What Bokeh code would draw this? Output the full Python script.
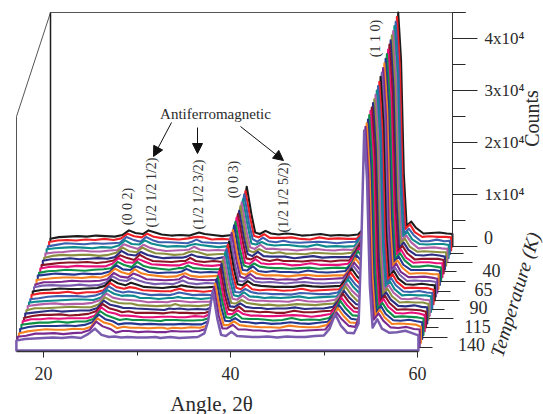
from bokeh.plotting import figure
from bokeh.models import LinearAxis, FixedTicker, Arrow, NormalHead
from bokeh.core.properties import value
from bokeh.embed import file_html
from bokeh.resources import INLINE

angles = [17.1,18,19,20,21,22,23,24, 24.8,25.5,26.2,27,27.6,28.3,29,30, 31,32,32.5,33,33.6,34.5,35.5,36.5,
          37.2,37.6,38.1,38.6,39,39.5,40.1,40.7, 41.5,42.3,43,44,45,46,47,48, 49,50,50.6,51.2,51.8,52.5,53.2,53.7,
          54,54.3,54.6,54.9,55.2,55.7,56.2,57, 57.8,58.7,59.5,60.1]

# Counts in hundreds, one list per scan, back (0 K) to front (140 K)
s01 = [15,18,19,20,19,21,20,19, 22,31,26,24,31,27,23,21, 22,21,24,27,24,22,20,22, 28,55,115,62,27,24,30,25, 23,25,24,21,22,24,21,22, 21,23,34,50,40,28,27,55, 230,450,360,140,40,48,36,25, 26,27,25,24]
s02 = [16,19,20,19,21,20,22,20, 23,32,27,25,32,26,24,22, 21,23,25,26,25,21,22,21, 29,56,114,63,28,25,31,24, 24,24,25,22,21,25,22,23, 22,22,35,52,39,29,26,54, 228,449,358,138,41,50,35,26, 27,26,26,25]
s03 = [15,18,21,20,19,21,20,21, 22,33,28,24,33,27,23,23, 22,21,24,28,23,22,21,22, 28,54,115,61,29,24,32,25, 23,26,23,22,23,24,23,21, 23,24,34,53,41,28,28,56, 232,447,356,141,40,49,37,25, 25,28,25,26]
s04 = [17,19,20,21,20,19,21,20, 24,34,27,26,34,28,25,22, 23,22,25,27,25,23,21,23, 27,56,113,62,28,26,31,26, 24,25,25,23,22,26,22,23, 22,23,36,54,40,30,27,53, 226,446,355,139,42,50,36,27, 26,27,27,25]
s05 = [16,18,19,21,22,20,20,22, 23,34,29,25,33,27,24,21, 22,23,24,29,24,22,23,22, 28,55,114,60,28,25,33,25, 25,24,24,22,24,25,23,22, 24,23,35,55,42,29,28,55, 229,444,354,137,41,51,38,26, 27,28,26,25]
s06 = [15,19,21,20,21,21,19,21, 25,35,28,26,35,29,24,23, 21,22,26,28,26,21,22,23, 29,57,115,61,29,26,32,27, 24,26,23,23,22,25,24,23, 23,25,36,54,41,29,29,54, 227,443,352,136,43,52,37,27, 28,27,26,26]
s07 = [17,20,20,22,20,21,22,21, 24,36,29,27,34,28,25,22, 23,23,25,29,25,23,21,24, 28,56,113,62,30,26,34,26, 25,25,25,22,24,26,23,24, 24,24,37,56,41,31,28,56, 225,441,351,138,42,52,38,28, 27,29,27,25]
s08 = [16,18,20,21,21,22,20,22, 25,35,30,26,36,29,24,23, 22,24,24,30,24,22,24,22, 29,55,114,63,29,27,33,27, 24,27,24,24,23,25,25,23, 25,25,36,57,43,30,29,55, 224,440,350,135,43,53,39,27, 28,28,28,26]
s09 = [17,20,21,20,22,21,21,21, 26,37,29,28,35,30,25,24, 23,23,26,29,26,23,22,24, 30,57,115,62,28,26,35,27, 25,26,26,23,24,27,24,24, 24,26,38,56,42,31,29,54, 226,438,349,137,44,53,38,28, 29,29,27,27]
s10 = [16,19,20,22,21,20,22,23, 25,37,31,27,37,29,26,24, 22,25,25,30,25,24,23,23, 29,56,114,60,30,27,34,28, 26,25,25,24,25,26,24,25, 26,25,37,58,43,31,30,56, 223,437,348,136,43,54,40,28, 28,30,28,26]
s11 = [18,20,22,21,20,22,21,22, 26,38,30,29,36,31,25,23, 24,24,26,31,26,24,25,24, 30,55,115,61,29,28,36,27, 25,27,25,25,24,28,25,24, 25,27,39,57,44,32,30,55, 222,435,346,134,44,55,39,29, 29,29,29,27]
s12 = [17,19,21,22,22,21,23,22, 27,39,32,28,38,30,27,25, 23,24,27,30,25,23,24,25, 31,57,113,62,30,27,35,29, 26,26,26,24,26,27,25,25, 26,26,38,59,44,32,31,57, 221,434,346,136,45,55,41,29, 30,30,28,28]
s13 = [16,20,20,21,23,22,22,23, 26,38,31,29,37,32,26,25, 24,25,26,32,27,25,24,25, 30,56,115,63,31,28,36,28, 27,27,25,26,25,29,26,26, 27,28,40,58,45,33,31,56, 220,432,344,133,44,56,40,30, 30,31,29,27]
s14 = [18,21,22,21,21,23,21,22, 27,39,32,30,36,31,27,24, 25,24,27,31,26,24,26,25, 31,58,114,61,30,29,37,29, 27,28,27,25,27,28,26,25, 26,27,39,60,46,33,32,55, 222,431,343,135,46,56,42,30, 31,30,30,28]
s15 = [17,20,21,23,22,22,23,24, 28,40,33,29,34,30,26,25, 24,26,26,29,27,25,25,26, 30,57,113,62,31,29,37,30, 28,27,26,26,26,29,27,26, 27,28,41,61,46,34,32,57, 219,430,342,132,45,57,42,31, 30,32,30,29]
s16 = [18,21,22,22,24,21,23,23, 27,41,33,30,33,31,27,26, 25,25,28,30,26,26,24,26, 31,56,115,60,32,29,38,29, 27,28,28,26,27,30,26,27, 28,29,40,62,47,34,33,56, 218,428,341,134,46,58,43,31, 32,31,31,28]
s17 = [17,19,22,23,23,23,22,24, 29,42,34,30,32,30,28,25, 26,25,27,30,28,25,26,25, 32,58,114,62,31,30,37,31, 28,28,27,27,26,29,28,27, 27,30,41,61,47,35,33,58, 220,427,340,131,47,58,44,32, 31,33,30,29]
s18 = [18,20,21,22,23,24,24,23, 28,42,35,31,32,31,27,27, 25,27,27,29,27,27,25,27, 31,57,115,61,32,30,38,30, 29,27,28,27,28,30,27,28, 29,30,42,63,48,35,34,57, 217,426,339,133,47,59,44,32, 33,32,32,30]
s19 = [19,21,23,24,22,23,23,25, 30,43,35,32,31,30,29,26, 27,26,28,29,28,26,27,27, 32,56,113,63,33,31,39,31, 29,29,28,28,27,31,28,27, 28,31,43,62,48,36,34,59, 216,425,338,130,48,59,45,33, 32,34,31,30]
s20 = [18,22,22,23,24,25,24,24, 29,43,36,32,31,31,28,27, 26,27,27,30,27,27,26,28, 33,58,114,62,32,31,38,32, 30,28,29,27,28,30,29,28, 30,31,42,64,49,36,35,58, 218,424,337,132,48,60,45,33, 34,33,33,30]
s21 = [19,21,23,25,23,24,25,25, 30,44,36,33,30,30,29,28, 27,26,29,28,29,27,28,27, 33,57,115,60,33,32,39,32, 30,30,28,29,29,31,28,29, 29,32,44,63,49,37,35,57, 215,424,336,131,49,60,46,34, 33,35,32,31]
s22 = [18,22,24,24,25,23,24,26, 31,45,37,33,29,31,28,28, 28,27,28,29,28,28,27,28, 32,58,114,61,34,32,40,31, 31,29,30,28,28,32,29,29, 31,32,43,65,50,37,36,59, 214,423,335,133,49,61,47,34, 35,34,33,30]
s23 = [19,23,23,25,24,25,25,25, 30,46,37,34,30,30,29,27, 27,28,28,28,27,27,29,28, 34,57,115,62,33,33,40,33, 30,30,29,29,30,31,30,28, 30,33,45,64,50,38,36,58, 216,424,334,130,50,62,47,35, 34,36,34,31]
s24 = [20,22,24,24,26,24,26,26, 31,46,38,33,29,31,29,29, 28,27,29,29,29,28,28,29, 33,59,113,63,34,33,41,32, 31,31,30,28,29,33,29,30, 29,33,44,66,51,38,37,57, 213,423,333,132,50,62,48,35, 36,35,34,32]
s25 = [19,23,25,25,25,26,25,27, 32,47,38,34,28,30,30,28, 29,28,28,28,28,29,28,28, 34,58,115,61,35,34,40,33, 32,30,31,29,30,32,30,29, 31,33,46,65,51,39,37,59, 212,422,333,129,51,63,48,36, 35,37,34,32]
s26 = [18,22,24,26,25,25,27,26, 31,47,39,35,28,31,29,29, 28,29,29,27,29,28,30,29, 33,57,114,62,34,34,41,34, 32,31,30,30,29,33,31,30, 30,34,45,67,52,39,38,58, 214,422,332,131,51,64,49,36, 37,36,35,31]
s27 = [19,21,25,25,26,24,26,27, 32,48,39,34,27,30,30,28, 29,28,28,28,30,29,29,30, 34,58,115,60,35,35,42,33, 33,31,31,29,31,32,30,31, 32,33,46,66,52,40,38,59, 211,423,331,128,52,64,50,37, 36,38,34,33]
s28 = [19,22,23,24,25,24,26,24, 32,42,30,26,27,25,26,25, 25,26,24,25,26,24,25,26, 33,56,115,60,30,28,36,28, 27,26,26,27,25,27,26,26, 28,29,42,70,48,34,33,52, 210,423,330,125,44,60,42,34, 35,38,33,29]

series = [s01,s02,s03,s04,s05,s06,s07,s08,s09,s10,s11,s12,s13,s14,
          s15,s16,s17,s18,s19,s20,s21,s22,s23,s24,s25,s26,s27,s28]
colors = ["#1c1c1c","#ee2027","#3c5fae","#0f8a8e","#b25fa8","#8b9040","#2b2e83","#8c1427",
          "#e8117b","#0f9048","#25378f","#f58220","#7b2b90","#7a5cae"]

count_ticks = [0,10000,20000,30000,40000]
count_minor = [5000,15000,25000,35000,45000]
count_labels = {0:"",10000:"1x10\u2074",20000:"2x10\u2074",30000:"3x10\u2074",40000:"4x10\u2074"}
angle_ticks = [20,40,60]
angle_minor = [30,50]
temp_labels = ["0","40","65","90","115","140"]
peak_labels = ["(0 0 2)","(1/2 1/2 1/2)","(1/2 1/2 3/2)","(0 0 3)","(1/2 1/2 5/2)","(1 1 0)"]

SERIF = "Liberation Serif"
INK = "#2a2a2a"
PXDEG = 9.35
PXCOUNT = 52 / 10000
def X(s): return 20 + (s - 43) / PXDEG
def Y(s): return (246 - s) / PXCOUNT

p = figure(width=543, height=414, output_backend="svg", toolbar_location=None,
           x_range=(X(0), X(543)), y_range=(Y(414), Y(0)),
           x_axis_type=None, y_axis_type=None, min_border=0,
           outline_line_color=None, background_fill_color="white", border_fill_color="white")
p.grid.visible = False

# frame behind the traces
p.line([X(16),X(16),X(50),X(465)], [Y(350),Y(116),Y(12),Y(12)], line_color="#555555", line_width=1)
p.line([X(50),X(50)], [Y(12),Y(238)], line_color="#1c1c1c", line_width=1.5)

# waterfall, back to front: each trace hides what lies behind it
N = len(series)
for i, vals in enumerate(series):
    shift_x = (N - 1 - i) / (N - 1) * 34 / PXDEG
    base = -20000 * i / (N - 1)
    xs = [a + shift_x for a in angles]
    ys = [v * 100 + base for v in vals]
    p.patch([xs[0]] + xs + [xs[-1]], [base] + ys + [base],
            fill_color="white", line_color=colors[i % len(colors)],
            line_width=2.5 if i == N - 1 else 2.1, line_join="round")

# axes
ax_x = LinearAxis(fixed_location=Y(351), bounds=(X(16), X(418)),
                  ticker=FixedTicker(ticks=angle_ticks, minor_ticks=angle_minor))
ax_x.major_tick_out = 6; ax_x.major_tick_in = 0; ax_x.minor_tick_out = 4; ax_x.minor_tick_in = 0
ax_x.major_label_text_font = SERIF; ax_x.major_label_text_font_size = "18px"
ax_x.major_label_text_color = INK; ax_x.major_label_text_align = "right"
ax_x.major_label_standoff = 9
ax_x.axis_line_color = "#333333"; ax_x.axis_line_width = 1.5
ax_x.major_tick_line_color = INK; ax_x.minor_tick_line_color = INK
p.add_layout(ax_x, "below")

ax_z = LinearAxis(fixed_location=X(452), bounds=(0, 45000),
                  ticker=FixedTicker(ticks=count_ticks, minor_ticks=count_minor),
                  major_label_overrides=count_labels)
ax_z.major_tick_out = 25; ax_z.major_tick_in = 0; ax_z.minor_tick_out = 13; ax_z.minor_tick_in = 0
ax_z.major_label_text_font = SERIF; ax_z.major_label_text_font_size = "17px"
ax_z.major_label_text_color = INK; ax_z.major_label_text_baseline = "bottom"
ax_z.major_label_standoff = 7
ax_z.axis_line_color = "#333333"; ax_z.axis_line_width = 1
ax_z.major_tick_line_color = INK; ax_z.minor_tick_line_color = INK
p.add_layout(ax_z, "right")
p.line([X(418),X(465)], [Y(12),Y(12)], line_color="#555555", line_width=1)

# temperature axis ticks
tmaj_y = [262,281,300,318,337]; tmaj_end = [472,465,459,453,447]
tmin_y = [253,271,291,309,327,347]; tmin_end = [463,456,450,444,438,432]
def depth_x(s): return 452 - (s - 246) * 34 / 104
ty = tmaj_y + tmin_y; te = tmaj_end + tmin_end
p.segment([X(depth_x(s)) for s in ty], [Y(s) for s in ty], [X(e) for e in te], [Y(s) for s in ty],
          line_color=INK, line_width=1)

def txt(xs, ys, t, size, angle=0, style="normal", color=INK):
    p.text([X(s) for s in xs], [Y(s) for s in ys], text=t, angle=angle, text_align="center",
           text_baseline="middle", text_font=value(SERIF), text_font_size=f"{size}px",
           text_font_style=style, text_color=color)

txt([488,491,483,478,477,471], [237,270,289,307,326,344], temp_labels, 18)
txt([127,151,198,233,283,375], [206,192,194,179,197,38], peak_labels, 14, angle=1.5708, color="#333333")
txt([215], [113], ["Antiferromagnetic"], 15)
txt([211], [403], ["Angle, 2\u03b8"], 21)
txt([531], [118], ["Counts"], 20, angle=1.5708)
txt([515], [294], ["Temperature (K)"], 19.5, angle=1.274, style="italic")

for (x0,y0,x1,y1) in [(171,122,153,156),(197,127,197,153),(240,126,283,160)]:
    p.add_layout(Arrow(end=NormalHead(size=10, fill_color="#111111", line_color="#111111"),
                       x_start=X(x0), y_start=Y(y0), x_end=X(x1), y_end=Y(y1),
                       line_color="#111111", line_width=1))

open("out.html", "w").write(file_html(p, INLINE))
